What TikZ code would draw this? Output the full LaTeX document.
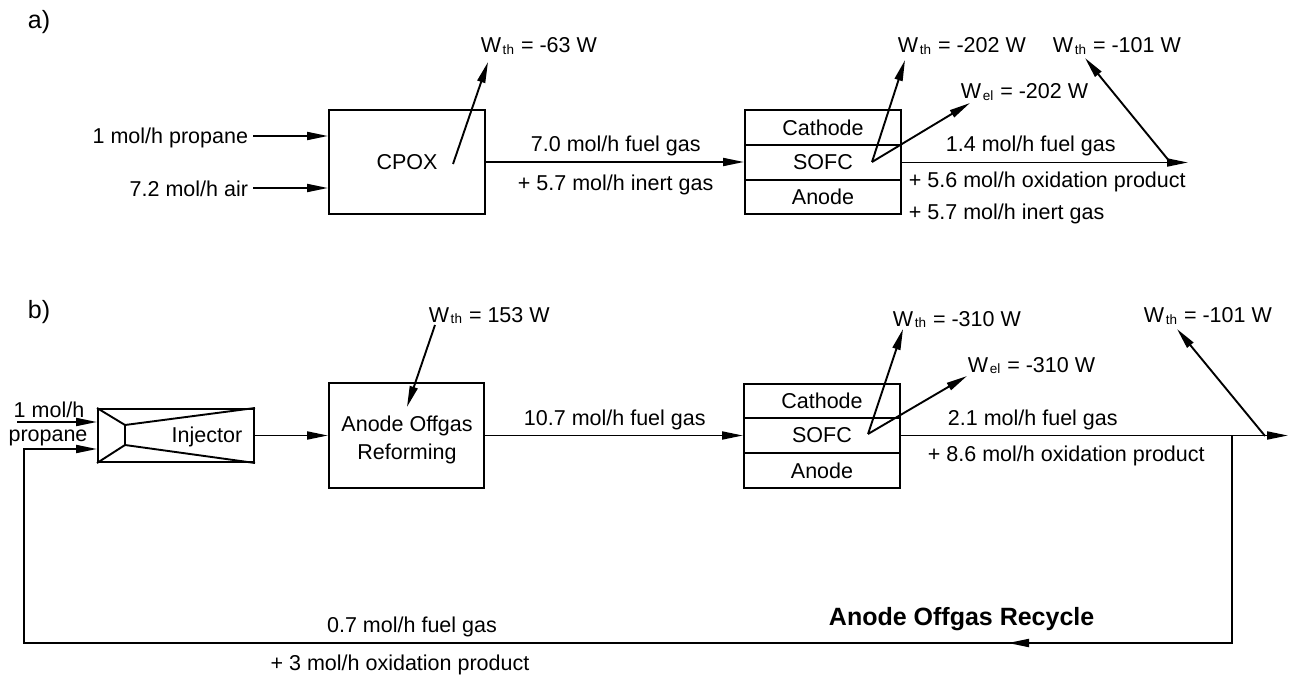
\documentclass[tikz,border=0pt]{standalone}
\usepackage{fontspec}
\setmainfont{Liberation Sans}
\usetikzlibrary{arrows.meta}
\newcommand{\Wsub}[1]{W\hspace{1.5pt}\raisebox{-1.5pt}{\fontsize{13.5}{13.5}\selectfont #1}\hspace{7pt}}
\begin{document}
\begin{tikzpicture}[x=1pt,y=-1pt,line width=1.9pt,
  font=\fontsize{21.5}{26}\selectfont,
  box/.style={draw,rectangle,inner sep=0pt,line width=2pt},
  lbl/.style={inner sep=0pt},
  plbl/.style={inner sep=0pt,font=\fontsize{25}{30}\selectfont},
  arr/.style={-{Triangle[length=21pt,width=8pt]}}]
\useasboundingbox (0,0) rectangle (1290,676);
% ---------------- panel a ----------------
\node[plbl,anchor=base west] (la) at (27,29) {a)};
\node[box,minimum width=156pt,minimum height=104pt] (cpox) at (407,162) {CPOX};
\node[lbl,anchor=base east] (prop) at (249,144) {1 mol/h propane};
\node[lbl,anchor=base east] (air) at (249,197) {7.2 mol/h air};
\coordinate (pA) at (253,136);
\coordinate (aA) at (253,188);
\draw[arr] (pA) -- (pA -| cpox.west);
\draw[arr] (aA) -- (aA -| cpox.west);
\coordinate (cA) at (453,164);
\coordinate (cAt) at (488,62);
\draw[arr] (cA) -- (cAt);
\node[lbl,anchor=base west] (wA1) at (480,53) {\Wsub{th}= -63 W};
\node[box,minimum width=156pt,minimum height=35pt] (catA) at (823,127.5) {Cathode};
\node[box,minimum width=156pt,minimum height=35pt] (sofA) at (823,162.5) {SOFC};
\node[box,minimum width=156pt,minimum height=34pt] (anA) at (823,197) {Anode};
\draw[arr] (cpox.east) -- (cpox.east -| sofA.west);
\node[lbl,anchor=base west] (fA1) at (530,152) {7.0 mol/h fuel gas};
\node[lbl,anchor=base west] (fA2) at (517,191) {+ 5.7 mol/h inert gas};
\coordinate (sA) at (872,162);
\coordinate (sAt1) at (905,60);
\coordinate (sAt2) at (970,103);
\draw[arr] (sA) -- (sAt1);
\draw[arr] (sA) -- (sAt2);
\node[lbl,anchor=base west] (wA2) at (897,53) {\Wsub{th}= -202 W};
\node[lbl,anchor=base west] (wA3) at (960,99) {\Wsub{el}= -202 W};
\coordinate (oA) at (1188,162);
\draw[arr] (sofA.east) -- (sofA.east -| oA);
\coordinate (hA) at (1170,162);
\coordinate (hAt) at (1085,58);
\draw[arr] (hA) -- (hAt);
\node[lbl,anchor=base west] (wA4) at (1052,53) {\Wsub{th}= -101 W};
\node[lbl,anchor=base west] (gA1) at (945,152) {1.4 mol/h fuel gas};
\node[lbl,anchor=base west] (gA2) at (908,188) {+ 5.6 mol/h oxidation product};
\node[lbl,anchor=base west] (gA3) at (908,220) {+ 5.7 mol/h inert gas};
% ---------------- panel b ----------------
\node[plbl,anchor=base west] (lb) at (27,319) {b)};
\node[box,minimum width=156pt,minimum height=53pt] (inj) at (176,435.5) {};
\coordinate (n1) at (125,425);
\coordinate (n2) at (125,445);
\draw (inj.north west) -- (n1) -- (inj.north east);
\draw (inj.south west) -- (n2) -- (inj.south east);
\draw (n1) -- (n2);
\node[lbl,anchor=base] (injt) at (207,442) {Injector};
\coordinate (pB) at (17,422);
\draw[arr] (pB) -- (pB -| inj.west);
\node[lbl,anchor=base] (pB1) at (49,417) {1 mol/h};
\node[lbl,anchor=base] (pB2) at (48,441) {propane};
\node[box,minimum width=155pt,minimum height=105pt] (aor) at (406.5,435.5) {};
\node[lbl,anchor=base] (aor1) at (407,431) {Anode Offgas};
\node[lbl,anchor=base] (aor2) at (407,459) {Reforming};
\draw[arr] (inj.east) -- (aor.west);
\coordinate (rB) at (435,325);
\coordinate (rBt) at (407,407);
\draw[arr] (rB) -- (rBt);
\node[lbl,anchor=base west] (wB1) at (428,322) {\Wsub{th}= 153 W};
\node[box,minimum width=156pt,minimum height=34pt] (catB) at (822,401) {Cathode};
\node[box,minimum width=156pt,minimum height=35pt] (sofB) at (822,435.5) {SOFC};
\node[box,minimum width=156pt,minimum height=35pt] (anB) at (822,470.5) {Anode};
\draw[arr] (aor.east) -- (aor.east -| sofB.west);
\node[lbl,anchor=base west] (fB1) at (523,425) {10.7 mol/h fuel gas};
\coordinate (sB) at (868,434);
\coordinate (sBt1) at (903,329);
\coordinate (sBt2) at (967,376);
\draw[arr] (sB) -- (sBt1);
\draw[arr] (sB) -- (sBt2);
\node[lbl,anchor=base west] (wB2) at (892,326) {\Wsub{th}= -310 W};
\node[lbl,anchor=base west] (wB3) at (967,372) {\Wsub{el}= -310 W};
\coordinate (oB) at (1288,436);
\draw[arr] (sofB.east) -- (sofB.east -| oB);
\coordinate (hB) at (1265,436);
\coordinate (hBt) at (1177,329);
\draw[arr] (hB) -- (hBt);
\node[lbl,anchor=base west] (wB4) at (1143,323) {\Wsub{th}= -101 W};
\node[lbl,anchor=base west] (gB1) at (947,425) {2.1 mol/h fuel gas};
\node[lbl,anchor=base west] (gB2) at (927,461) {+ 8.6 mol/h oxidation product};
% recycle
\coordinate (split) at (1232,436);
\coordinate (rc1) at (1232,643);
\coordinate (rc2) at (24,643);
\coordinate (rc3) at (24,449);
\draw[arr] (split) -- (rc1) -- (rc2) -- (rc3) -- (rc3 -| inj.west);
\coordinate (ma) at (1030,643);
\coordinate (mat) at (1008,643);
\draw[arr] (ma) -- (mat);
\node[lbl,anchor=base] (r1) at (412,632) {0.7 mol/h fuel gas};
\node[lbl,anchor=base] (r2) at (400,670) {+ 3 mol/h oxidation product};
\node[lbl,anchor=base west,font=\fontsize{25}{30}\selectfont\bfseries] (rt) at (828,625) {Anode Offgas Recycle};
\end{tikzpicture}
\end{document}
